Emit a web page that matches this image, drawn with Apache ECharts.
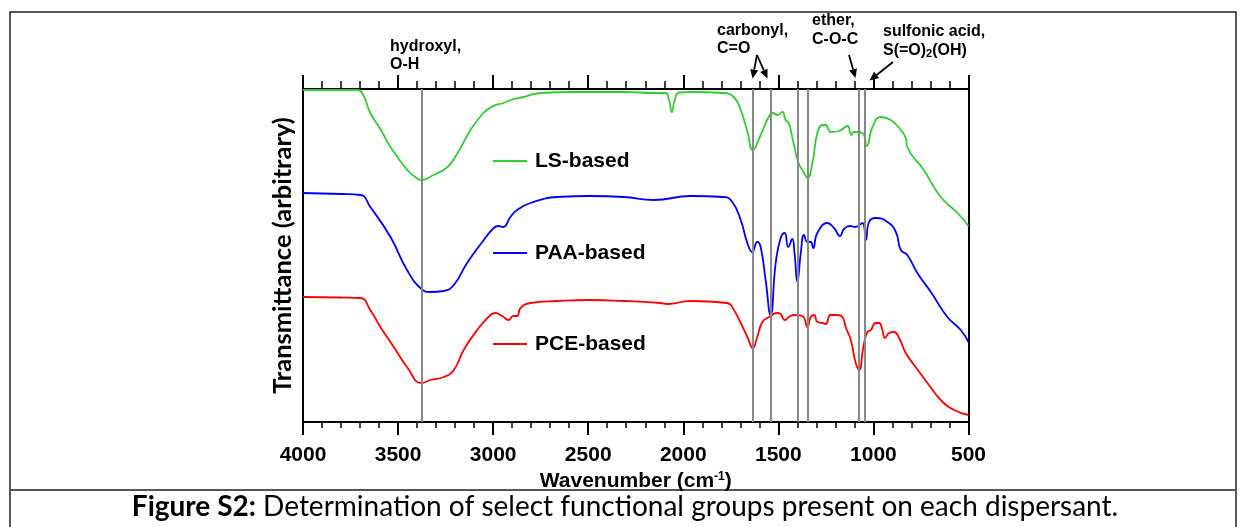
<!DOCTYPE html>
<html><head><meta charset="utf-8">
<script src="https://cdn.jsdelivr.net/npm/echarts@6/dist/echarts.min.js"></script>
<style>html,body{margin:0;padding:0;background:#fff}#chart{width:1246px;height:527px}</style>
</head><body><div id="chart"></div>
<script>
// ---------- data (wavenumber cm-1, transmittance in arbitrary offset units) ----------
const seriesNames = ['LS-based', 'PAA-based', 'PCE-based'];
const seriesColors = ['#33cc33', '#0000ff', '#ff0000'];

const lsBased = [
  [4000,332],[3800,332],[3713,332],[3683,327],[3646,309],[3590,292],[3540,275],[3451,252],[3410,245],
  [3377,242],[3314,247],[3240,255],[3187,269],[3119,292],[3051,309],[3000,316],[2945,319],[2908,322],
  [2840,325],[2751,329],[2577,330],[2314,330],[2156,329],[2093,329],[2075,322],[2060,310],[2045,322],
  [2023,329.5],[1961,330],[1787,329],[1735,325],[1698,312],[1661,289],[1635,272],[1593,287],[1551,305],
  [1527,309],[1505,307],[1479,310],[1462,302],[1446,299],[1420,279],[1394,259],[1367,250],[1347,244],
  [1321,259],[1295,289],[1268,297],[1251,297],[1225,290],[1181,291],[1137,296],[1116,287],[1102,290],
  [1058,289],[1035,276],[1005,295],[962,305],[909,302],[856,292],[830,284],[822,275],[735,252],
  [646,225],[558,209],[500,196]
];
const paaBased = [
  [4000,229],[3800,228],[3698,227],[3646,215],[3540,185],[3453,152],[3377,133],[3330,130],[3260,131],
  [3207,137],[3137,159],[3049,182],[2997,194],[2972,196],[2947,195],[2909,205],[2874,212],[2804,219],
  [2663,225],[2488,226],[2313,225],[2155,222],[1961,226],[1786,225],[1742,220],[1698,202],[1663,179],
  [1637,170],[1611,180],[1593,175],[1567,142],[1541,107],[1514,159],[1488,184],[1467,189],[1448,175],
  [1427,183],[1415,169],[1400,140],[1382,169],[1365,187],[1347,180],[1330,180],[1317,174],[1295,189],
  [1242,199],[1207,194],[1176,186],[1155,193],[1124,196],[1094,195],[1058,199],[1040,182],[1023,200],
  [988,204],[926,200],[882,190],[856,172],[822,167],[769,149],[698,130],[611,105],[541,92],[500,80]
];
const pceBased = [
  [4000,125],[3800,124.5],[3698,124],[3646,112],[3593,95],[3523,75],[3453,55],[3377,39],[3330,42],
  [3260,45],[3207,52],[3155,72],[3084,92],[3014,107],[2988,109],[2953,106],[2918,102],[2895,106],
  [2874,106],[2856,114],[2804,119],[2663,121],[2488,122],[2313,121],[2120,119],[2085,118],[1961,121],
  [1769,119],[1734,112],[1698,99],[1663,85],[1634,74],[1611,85],[1584,100],[1549,105],[1505,109],
  [1488,108],[1467,102],[1444,105],[1418,107],[1374,106],[1347,95],[1330,105],[1312,107],[1295,100],
  [1268,99],[1251,98],[1225,107],[1190,107],[1163,105],[1146,95],[1119,82],[1093,59],[1075,52],
  [1053,75],[1032,90],[1014,92],[988,99],[970,99],[953,92],[940,84],[918,89],[892,90],[865,84],
  [830,69],[786,57],[716,39],[646,22],[576,12],[500,7]
];
const markerWavenumbers = [3377, 1634, 1541, 1400, 1347, 1079, 1044];
const annotationTexts = [
  ['hydroxyl,', 'O-H'],
  ['carbonyl,', 'C=O'],
  ['ether,', 'C-O-C'],
  ['sulfonic acid,', 'S(=O){sub|2}(OH)']
];
const xAxisTitle = 'Wavenumber (cm{sup|-1})';
const yAxisTitle = 'Transmittance (arbitrary)';
const captionBold = 'Figure S2:';
const captionText = ' Determination of select functional groups present on each dispersant.';

// ---------- chart ----------
const chart = echarts.init(document.getElementById('chart'), null, {renderer: 'canvas'});
const AF = '"Liberation Sans", Arial, sans-serif';
const CF = 'Lato, "Open Sans", sans-serif';

function arrow(x1, y1, x2, y2) {
  const dx = x2 - x1, dy = y2 - y1, L = Math.hypot(dx, dy);
  const ux = dx / L, uy = dy / L, hl = 9, hw = 4;
  const bx = x2 - ux * hl, by = y2 - uy * hl;
  return [
    {type: 'line', silent: true, shape: {x1, y1, x2: bx, y2: by}, style: {stroke: '#000', lineWidth: 1.8}},
    {type: 'polygon', silent: true, shape: {points: [[x2, y2], [bx - uy * hw, by + ux * hw], [bx + uy * hw, by - ux * hw]]}, style: {fill: '#000'}}
  ];
}
function annot(lines, x, y1, y2) {
  const st = {fontFamily: AF, fontWeight: 'bold', fontSize: 16, fill: '#000', align: 'left', verticalAlign: 'middle',
    rich: {sub: {fontFamily: AF, fontWeight: 'bold', fontSize: 11, verticalAlign: 'bottom', padding: [6, 0, 0, 0]}}};
  return [
    {type: 'text', silent: true, style: Object.assign({}, st, {text: lines[0], x: x, y: y1})},
    {type: 'text', silent: true, style: Object.assign({}, st, {text: lines[1], x: x, y: y2})}
  ];
}

const graphics = [].concat(
  [{type: 'rect', silent: true, z: -10, shape: {x: 10, y: 12, width: 1226, height: 540}, style: {fill: 'none', stroke: '#222', lineWidth: 1.5}},
   {type: 'line', silent: true, shape: {x1: 10, y1: 490, x2: 1236, y2: 490}, style: {stroke: '#555', lineWidth: 2}},
   {type: 'text', silent: true, style: {text: '{b|' + captionBold + '}' + captionText, x: 625, y: 507, align: 'center', verticalAlign: 'middle',
     fontFamily: CF, fontSize: 28, fill: '#000', rich: {b: {fontFamily: CF, fontSize: 28, fontWeight: 'bold'}}}}],
  annot(annotationTexts[0], 390, 47, 65),
  annot(annotationTexts[1], 717, 31, 49),
  annot(annotationTexts[2], 812, 21, 40),
  annot(annotationTexts[3], 883, 32, 51),
  arrow(757, 55, 752.5, 78.5),
  arrow(757, 55, 767.5, 78.5),
  arrow(849, 55, 855.5, 78),
  arrow(893, 62, 869.5, 80.5)
);

const legendBase = (name, top) => ({
  data: [name], left: 493, top: top, padding: 0, orient: 'vertical', itemWidth: 34, itemHeight: 14,
  icon: 'path://M0,0 L34,0 L34,2 L0,2 Z',
  textStyle: {fontFamily: AF, fontWeight: 'bold', fontSize: 21, color: '#000', lineHeight: 22, padding: [0, 0, 0, 3]},
  selectedMode: false
});

const xBase = {
  type: 'value', min: 500, max: 4000, interval: 500, inverse: true,
  splitLine: {show: false},
  axisLine: {show: true, onZero: false, lineStyle: {color: '#000', width: 2}}
};

chart.setOption({
  animation: false,
  backgroundColor: '#fff',
  grid: {left: 303, right: 277.5, top: 89, bottom: 105, containLabel: false},
  xAxis: [
    Object.assign({}, xBase, {
      position: 'bottom',
      name: xAxisTitle, nameLocation: 'middle', nameGap: 46,
      nameTextStyle: {fontFamily: AF, fontWeight: 'bold', fontSize: 21, color: '#000',
        rich: {sup: {fontFamily: AF, fontWeight: 'bold', fontSize: 12, verticalAlign: 'top', padding: [0, 0, 8, 0]}}},
      axisTick: {show: true, inside: false, length: 13, lineStyle: {color: '#000', width: 2}},
      minorTick: {show: true, splitNumber: 5, length: 6, lineStyle: {color: '#000', width: 1.5}},
      axisLabel: {margin: 23, fontFamily: AF, fontWeight: 'bold', fontSize: 21, color: '#000', formatter: v => String(v)}
    }),
    Object.assign({}, xBase, {
      position: 'top',
      axisTick: {show: true, inside: false, length: 14, lineStyle: {color: '#000', width: 2}},
      minorTick: {show: true, splitNumber: 5, length: 8, lineStyle: {color: '#000', width: 1.5}},
      axisLabel: {show: false}
    })
  ],
  yAxis: [
    {type: 'value', min: 0, max: 333, position: 'left',
     name: yAxisTitle, nameLocation: 'middle', nameGap: 7,
     nameTextStyle: {fontFamily: CF, fontWeight: 'bold', fontSize: 25.5, color: '#000'},
     axisLine: {show: true, lineStyle: {color: '#000', width: 2}},
     axisTick: {show: false}, axisLabel: {show: false}, splitLine: {show: false}},
    {type: 'value', min: 0, max: 333, position: 'right',
     axisLine: {show: true, lineStyle: {color: '#000', width: 2}},
     axisTick: {show: false}, axisLabel: {show: false}, splitLine: {show: false}}
  ],
  legend: [legendBase(seriesNames[0], 150), legendBase(seriesNames[1], 242), legendBase(seriesNames[2], 333)],
  graphic: graphics,
  series: [
    {type: 'line', name: 'markers', data: [], silent: true, z: 1,
     markLine: {silent: true, symbol: ['none', 'none'], animation: false, label: {show: false},
       lineStyle: {color: '#888', width: 2, type: 'solid'},
       data: markerWavenumbers.map(w => ({xAxis: w}))}},
    {type: 'line', name: seriesNames[0], data: lsBased, showSymbol: false, symbol: 'none', smooth: 0.5,
     lineStyle: {color: seriesColors[0], width: 1.8}, itemStyle: {color: seriesColors[0]}, z: 3},
    {type: 'line', name: seriesNames[1], data: paaBased, showSymbol: false, symbol: 'none', smooth: 0.5,
     lineStyle: {color: seriesColors[1], width: 1.8}, itemStyle: {color: seriesColors[1]}, z: 3},
    {type: 'line', name: seriesNames[2], data: pceBased, showSymbol: false, symbol: 'none', smooth: 0.5,
     lineStyle: {color: seriesColors[2], width: 1.8}, itemStyle: {color: seriesColors[2]}, z: 3}
  ]
});
</script></body></html>
